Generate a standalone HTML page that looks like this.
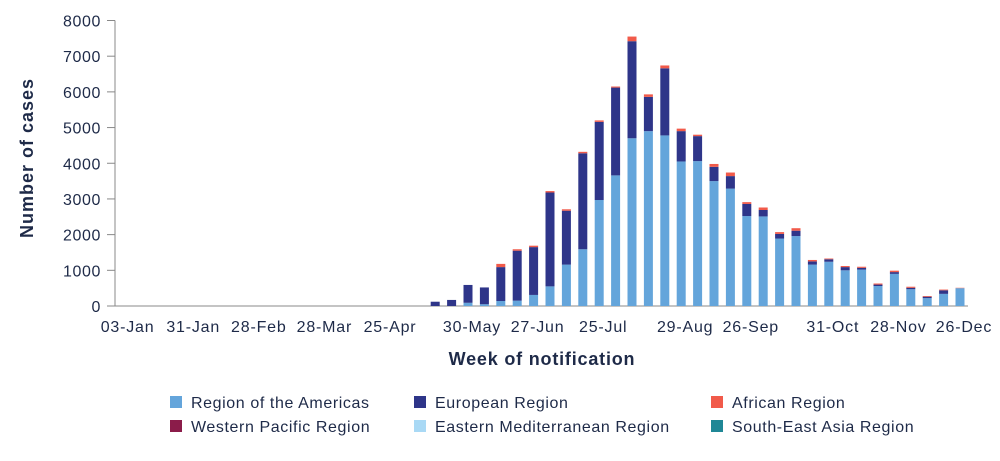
<!DOCTYPE html>
<html><head><meta charset="utf-8">
<style>
body{margin:0;background:#fff;width:1000px;height:456px;overflow:hidden;font-family:"Liberation Sans",sans-serif;}
svg text{font-family:"Liberation Sans",sans-serif;fill:#1e2a48;}
</style></head>
<body>
<svg id="chart" width="1000" height="456" viewBox="0 0 1000 456" xmlns="http://www.w3.org/2000/svg">
<g id="axes"></g><g id="bars"></g>
<text transform="translate(33,158) rotate(-90)" text-anchor="middle" font-size="18" font-weight="bold" letter-spacing="1">Number of cases</text>
<text x="542" y="365" text-anchor="middle" font-size="18" font-weight="bold" letter-spacing="0.8">Week of notification</text>
<g font-size="16" letter-spacing="0.6">
<g><rect x="170" y="396" width="12" height="12" fill="#64a5db"/><text x="191" y="408">Region of the Americas</text></g>
<g><rect x="414" y="396" width="12" height="12" fill="#2e3589"/><text x="435" y="408">European Region</text></g>
<g><rect x="711" y="396" width="12" height="12" fill="#f15a4a"/><text x="732" y="408">African Region</text></g>
<g><rect x="170" y="420" width="12" height="12" fill="#8b1c4a"/><text x="191" y="432">Western Pacific Region</text></g>
<g><rect x="414" y="420" width="12" height="12" fill="#a9d9f5"/><text x="435" y="432">Eastern Mediterranean Region</text></g>
<g><rect x="711" y="420" width="12" height="12" fill="#1f8796"/><text x="732" y="432">South-East Asia Region</text></g>
</g>
</svg>
<script>
const firstWeekIndex = 19;
const americas = [0,0,90,50,140,150,310,550,1160,1590,2970,3660,4700,4900,4780,4050,4060,3500,3290,2520,2510,1890,1960,1160,1240,1000,1020,560,900,470,220,340,500];
const european = [120,170,500,470,950,1400,1340,2630,1510,2690,2190,2460,2720,960,1880,850,700,400,350,340,180,130,150,90,70,90,50,40,50,40,40,100,0];
const african  = [0,0,0,0,90,40,40,40,40,40,40,30,130,70,80,70,40,80,100,50,70,50,70,40,20,30,30,30,40,30,20,20,10];
const yTicks = [0,1000,2000,3000,4000,5000,6000,7000,8000];
const xTickIdx = [0,4,8,12,16,21,25,29,34,38,43,47,51];
const xTickLabels = ["03-Jan","31-Jan","28-Feb","28-Mar","25-Apr","30-May","27-Jun","25-Jul","29-Aug","26-Sep","31-Oct","28-Nov","26-Dec"];

const NS="http://www.w3.org/2000/svg";
const y0=306, yTop=20.5, yMax=8000;
function y(v){return y0-(v/yMax)*(y0-yTop);}
function x(i){return 123.6+i*16.4;}
function mk(tag,attrs,parent){const e=document.createElementNS(NS,tag);for(const k in attrs)e.setAttribute(k,attrs[k]);parent.appendChild(e);return e;}
const axes=document.getElementById('axes'), bars=document.getElementById('bars');
const yl=mk('line',{x1:115,y1:y(yMax),x2:115,y2:y0,stroke:'#888','stroke-width':1},axes);


const xl=mk('line',{x1:115,y1:y0,x2:968,y2:y0,stroke:'#888','stroke-width':1},axes);


yTicks.forEach(v=>{
  const t=mk('line',{x1:107,y1:y(v),x2:115,y2:y(v),stroke:'#888'},axes);
  
  
  const l=mk('text',{x:101,y:y(v)+6,'text-anchor':'end','font-size':16,'letter-spacing':0.6},axes);
  l.textContent=v;
  
  
});
xTickIdx.forEach((idx,k)=>{
  const l=mk('text',{x:x(idx)+4,y:332,'text-anchor':'middle','font-size':16,'letter-spacing':0.8},axes);
  l.textContent=xTickLabels[k];
  
  
});
const series=[[americas,'#64a5db','americas'],[european,'#2e3589','european'],[african,'#f15a4a','african']];
for(let i=0;i<americas.length;i++){
  let base=0;const cx=x(firstWeekIndex+i);
  series.forEach(([arr,col,nm])=>{
    const v=arr[i]; if(v<=0) return;
    const r=mk('rect',{x:cx-4.5,width:9,y:y(base+v),height:y(base)-y(base+v),fill:col},bars);
    
    
    base+=v;
  });
}
</script>
</body></html>
